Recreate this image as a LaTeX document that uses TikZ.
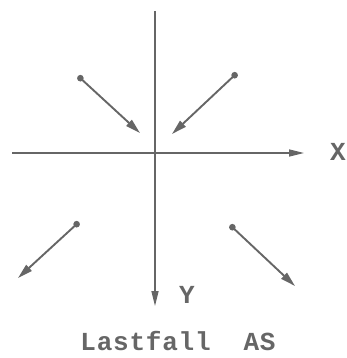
\documentclass[tikz,border=0pt]{standalone}
\usepackage{fontspec}
\setmonofont{Liberation Mono}
\usetikzlibrary{arrows.meta}
\definecolor{ink}{HTML}{666666}
\tikzset{
  axis/.style={draw=ink, line width=1.4pt, -{Triangle[length=15pt,width=7pt]}},
  load/.style={draw=ink, line width=1.9pt, {Circle[length=6.5pt]}-{Triangle[length=15pt,width=8pt]}},
  lbl/.style={text=ink, font=\ttfamily\bfseries\fontsize{26}{28}\selectfont, inner sep=0pt}
}
\begin{document}
\begin{tikzpicture}[x=1pt,y=-1pt]
\useasboundingbox (0,0) rectangle (347,358);
\coordinate (xs) at (12,153);
\coordinate (xe) at (304,153);
\coordinate (ys) at (155,11);
\coordinate (ye) at (155,306);
\draw[axis] (xs) -- (xe);
\draw[axis] (ys) -- (ye);
\node[lbl] (X) at (338,152) {X};
\node[lbl] (Y) at (187,295) {Y};
\node[lbl] (T) at (178,341) {\addfontfeatures{LetterSpace=3}Lastfall\ \ AS};
\coordinate (a1) at (78,76);  \coordinate (b1) at (140,133);
\coordinate (a2) at (237,73); \coordinate (b2) at (172,134);
\coordinate (a3) at (79,222); \coordinate (b3) at (18,278);
\coordinate (a4) at (230,225);\coordinate (b4) at (295,286);
\draw[load] (a1) -- (b1);
\draw[load] (a2) -- (b2);
\draw[load] (a3) -- (b3);
\draw[load] (a4) -- (b4);
\end{tikzpicture}
\end{document}
